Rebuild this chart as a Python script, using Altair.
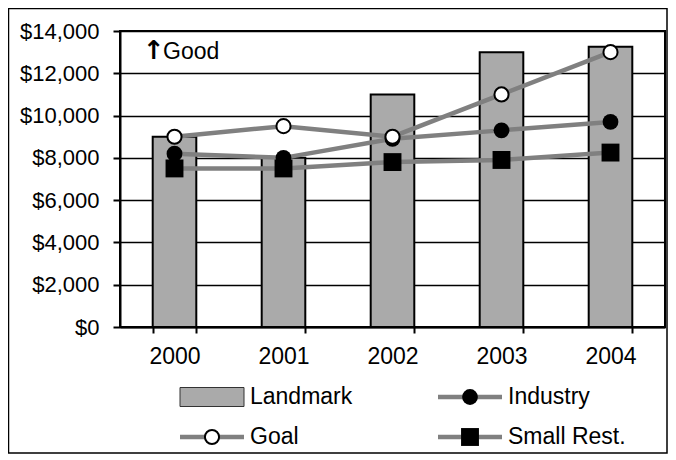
import altair as alt
import pandas as pd

# ---- data ----
years = ["2000", "2001", "2002", "2003", "2004"]
landmark = [9000, 8000, 11000, 13000, 13250]
goal = [9000, 9500, 9000, 11000, 13000]
industry = [8200, 8000, 8900, 9300, 9700]
small_rest = [7500, 7500, 7800, 7900, 8250]
series_names = ["Landmark", "Goal", "Industry", "Small Rest."]
y_ticks = [0, 2000, 4000, 6000, 8000, 10000, 12000, 14000]
note_arrow = "↑"
note_text = "Good"

FONT = "Liberation Sans"
W, H = 545, 296
LINE_GRAY = "#808080"
BAR_GRAY = "#aaaaaa"

bars_df = pd.DataFrame({"year": years, "value": landmark})
lines_df = pd.concat([
    pd.DataFrame({"year": years, "value": goal, "series": "Goal"}),
    pd.DataFrame({"year": years, "value": industry, "series": "Industry"}),
    pd.DataFrame({"year": years, "value": small_rest, "series": "Small Rest."}),
], ignore_index=True)

xscale = alt.Scale(type="band", domain=years, paddingInner=0.6, paddingOuter=0.3)
yscale = alt.Scale(domain=[0, 14000], nice=False, zero=True)

x_enc = alt.X("year:N", scale=xscale, title=None,
              axis=alt.Axis(labelAngle=0, tickBand="extent", grid=False,
                            domainColor="black", domainWidth=2,
                            tickColor="black", tickWidth=2, tickSize=6,
                            labelPadding=12, labelFont=FONT, labelFontSize=23,
                            labelColor="black"))
y_enc = alt.Y("value:Q", scale=yscale, title=None,
              axis=alt.Axis(values=y_ticks, format="$,.0f", grid=True,
                            gridColor="black", gridWidth=1.5, gridOpacity=1,
                            domainColor="black", domainWidth=2,
                            tickColor="black", tickWidth=2, tickSize=7,
                            labelPadding=14, labelFont=FONT, labelFontSize=22,
                            labelColor="black"))

one = alt.Data(values=[{}])

border = alt.Chart(one).mark_rect(fillOpacity=0, stroke="black", strokeWidth=1.5).encode(
    x=alt.value(-111.5), x2=alt.value(547), y=alt.value(-22.5), y2=alt.value(422))

bars = alt.Chart(bars_df).mark_bar(color=BAR_GRAY, stroke="black", strokeWidth=2).encode(
    x=x_enc, y=y_enc)

lines = alt.Chart(lines_df).mark_line(color=LINE_GRAY, strokeWidth=4.5).encode(
    x=x_enc, y=y_enc, detail="series:N")

sq = alt.Chart(lines_df).transform_filter(alt.datum.series == "Small Rest.").mark_point(
    shape="square", filled=True, fill="black", opacity=1, size=320).encode(x=x_enc, y=y_enc)
ind = alt.Chart(lines_df).transform_filter(alt.datum.series == "Industry").mark_point(
    shape="circle", filled=True, fill="black", opacity=1, size=250).encode(x=x_enc, y=y_enc)
gl = alt.Chart(lines_df).transform_filter(alt.datum.series == "Goal").mark_point(
    shape="circle", filled=True, fill="white", stroke="black", strokeWidth=2,
    opacity=1, size=200).encode(x=x_enc, y=y_enc)

arrow = alt.Chart(one).mark_text(text=note_arrow, font="DejaVu Sans", fontSize=26, fontWeight="bold",
                                 align="left", baseline="middle", color="black").encode(
    x=alt.value(23), y=alt.value(20))
good = alt.Chart(one).mark_text(text=note_text, font=FONT, fontSize=23,
                                align="left", baseline="middle", color="black").encode(
    x=alt.value(43), y=alt.value(21))

# ---- legend (decoration) ----
leg = []
row_y = [366, 406]
col_x = [60, 318]
seg = 64
items = [("Landmark", 0, 0), ("Industry", 1, 0), ("Goal", 0, 1), ("Small Rest.", 1, 1)]
for name, c, r in items:
    x0 = col_x[c]
    yy = row_y[r]
    if name == "Landmark":
        leg.append(alt.Chart(one).mark_rect(fill=BAR_GRAY, stroke="#333333", strokeWidth=1).encode(
            x=alt.value(x0), x2=alt.value(x0 + seg), y=alt.value(yy - 9.5), y2=alt.value(yy + 9.5)))
    else:
        leg.append(alt.Chart(one).mark_rule(color=LINE_GRAY, strokeWidth=4.5).encode(
            x=alt.value(x0), x2=alt.value(x0 + seg), y=alt.value(yy)))
        if name == "Goal":
            leg.append(alt.Chart(one).mark_point(shape="circle", filled=True, fill="white",
                                                 stroke="black", strokeWidth=2, opacity=1, size=200).encode(
                x=alt.value(x0 + seg / 2), y=alt.value(yy)))
        elif name == "Industry":
            leg.append(alt.Chart(one).mark_point(shape="circle", filled=True, fill="black",
                                                 opacity=1, size=250).encode(
                x=alt.value(x0 + seg / 2), y=alt.value(yy)))
        else:
            leg.append(alt.Chart(one).mark_point(shape="square", filled=True, fill="black",
                                                 opacity=1, size=320).encode(
                x=alt.value(x0 + seg / 2), y=alt.value(yy)))
    leg.append(alt.Chart(one).mark_text(text=name, font=FONT, fontSize=23, align="left",
                                        baseline="middle", color="black").encode(
        x=alt.value(x0 + seg + 6), y=alt.value(yy)))

chart = alt.layer(border, bars, lines, sq, ind, gl, arrow, good, *leg).properties(
    width=W, height=H,
    padding={"left": 112, "top": 23, "right": 3, "bottom": 128},
    autosize=alt.AutoSizeParams(type="none"),
    background="white",
).configure_view(stroke="black", strokeWidth=2)

chart.save("out.html", embed_options={"renderer": "svg", "actions": False})
